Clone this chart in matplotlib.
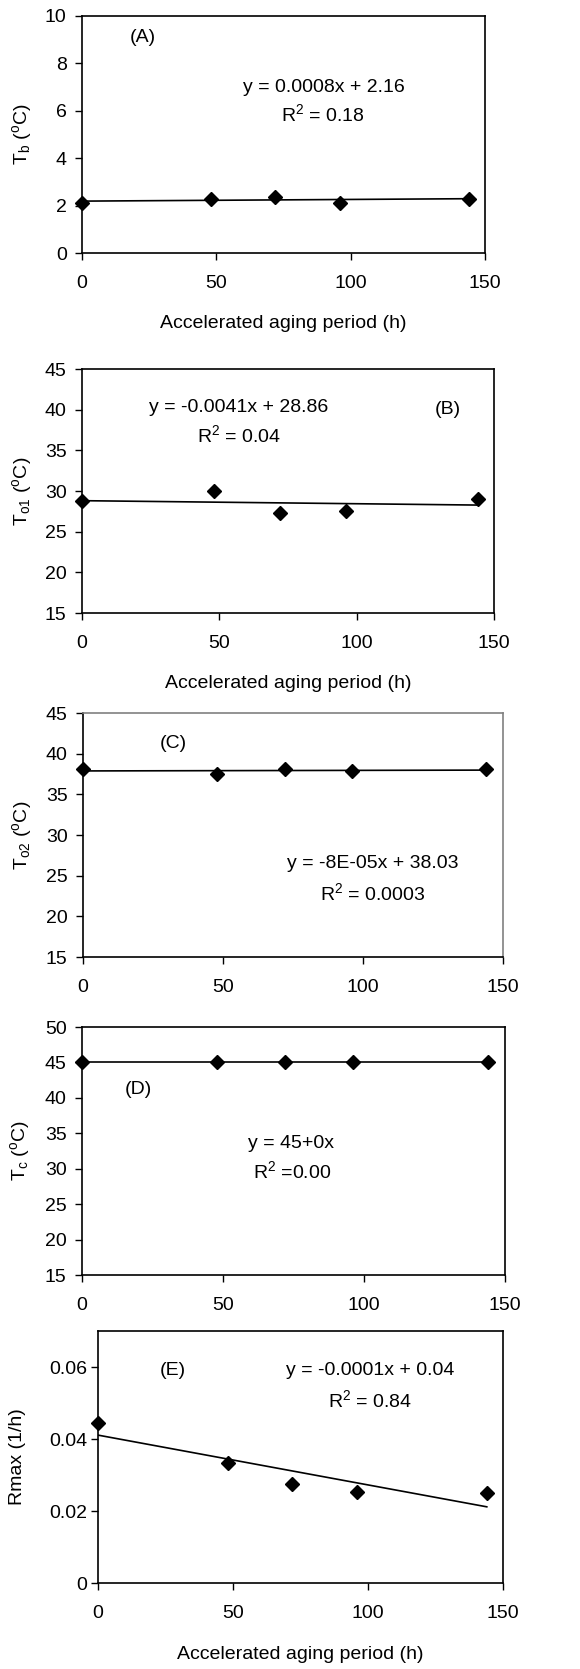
import matplotlib
matplotlib.use('Agg')
import matplotlib.pyplot as plt
import numpy as np

plt.rcParams['font.family'] = ['Liberation Sans', 'DejaVu Sans']
plt.rcParams['mathtext.fontset'] = 'custom'
plt.rcParams['mathtext.rm'] = 'Liberation Sans'
plt.rcParams['mathtext.it'] = 'Liberation Sans:italic'

# data
hours = [0, 48, 72, 96, 144]
tb = [2.13, 2.27, 2.38, 2.13, 2.29]
to1 = [28.8, 30.0, 27.3, 27.6, 29.0]
to2 = [38.06, 37.56, 38.06, 37.9, 38.06]
tc = [45, 45, 45, 45, 45]
rmax = [0.0444, 0.0333, 0.0276, 0.0254, 0.0249]

x_ticks = [0, 50, 100, 150]
tb_ticks = [0, 2, 4, 6, 8, 10]
to_ticks = [15, 20, 25, 30, 35, 40, 45]
tc_ticks = [15, 20, 25, 30, 35, 40, 45, 50]
r_ticks = [0, 0.02, 0.04, 0.06]
r_labels = ['0', '0.02', '0.04', '0.06']

W, H = 580, 1669
fig = plt.figure(figsize=(W / 100, H / 100), dpi=100)
FS = 14


def px_axes(left, top, right, bottom):
    return fig.add_axes([left / W, 1 - bottom / H, (right - left) / W, (bottom - top) / H])


def ftext(x, y, s):
    fig.text(x / W, 1 - y / H, s, ha='center', va='center', fontsize=FS)


def panel(box, y, ylim, yticks, ylabel, ylab_x, xlabel=True, grey=False, ylpad=6, ylabels=None):
    ax = px_axes(*box)
    xs = np.array(hours, dtype=float)
    k, b = np.polyfit(xs, y, 1)
    xx = np.array([0, 144])
    ax.plot(xx, k * xx + b, color='black', lw=1.2, zorder=2)
    ax.plot(xs, y, linestyle='none', marker='D', ms=7, color='black', zorder=3, clip_on=False)
    ax.set_xlim(0, 150)
    ax.set_ylim(*ylim)
    ax.set_xticks(x_ticks)
    ax.set_yticks(yticks)
    if ylabels is not None:
        ax.set_yticklabels(ylabels)
    ax.tick_params(direction='out', length=5, width=1, labelsize=FS)
    ax.tick_params(axis='x', pad=11)
    ax.tick_params(axis='y', pad=ylpad)
    for s in ax.spines.values():
        s.set_linewidth(1.2)
        s.set_color('black')
    if grey:
        ax.spines['top'].set_color('#808080')
        ax.spines['right'].set_color('#808080')
    ax.set_ylabel(ylabel, fontsize=FS, va='center')
    left, top, right, bottom = box
    ax.yaxis.set_label_coords((ylab_x - left) / (right - left), 0.5)
    if xlabel:
        ax.set_xlabel('Accelerated aging period (h)', fontsize=FS, va='center')
        ax.xaxis.set_label_coords(0.5, -71 / (bottom - top))
    return ax


# (A)
panel((82, 16, 485, 253), tb, (0, 10), tb_ticks,
      r'T$_\mathrm{b}$ ($^\mathrm{o}$C)', 22)
ftext(143, 37, '(A)')
ftext(324, 87, 'y = 0.0008x + 2.16')
ftext(323, 114, r'R$^2$ = 0.18')

# (B)
panel((82, 369, 494, 613), to1, (15, 45), to_ticks,
      r'T$_\mathrm{o1}$ ($^\mathrm{o}$C)', 22)
ftext(448, 410, '(B)')
ftext(239, 407, 'y = -0.0041x + 28.86')
ftext(239, 435, r'R$^2$ = 0.04')

# (C)
panel((83, 713, 503, 957), to2, (15, 45), to_ticks,
      r'T$_\mathrm{o2}$ ($^\mathrm{o}$C)', 22, xlabel=False, grey=True)
ftext(173, 743, '(C)')
ftext(373, 863, 'y = -8E-05x + 38.03')
ftext(373, 893, r'R$^2$ = 0.0003')

# (D)
panel((82, 1027, 505, 1275), tc, (15, 50), tc_ticks,
      r'T$_\mathrm{c}$ ($^\mathrm{o}$C)', 20, xlabel=False)
ftext(138, 1090, '(D)')
ftext(291, 1143, 'y = 45+0x')
ftext(292, 1171, r'R$^2$ =0.00')

# (E)
panel((98, 1331, 503, 1583), rmax, (0, 0.07), r_ticks,
      'Rmax (1/h)', 18, ylpad=3, ylabels=r_labels)
ftext(173, 1370, '(E)')
ftext(370, 1370, 'y = -0.0001x + 0.04')
ftext(370, 1400, r'R$^2$ = 0.84')

fig.savefig('out.png', dpi=100)
